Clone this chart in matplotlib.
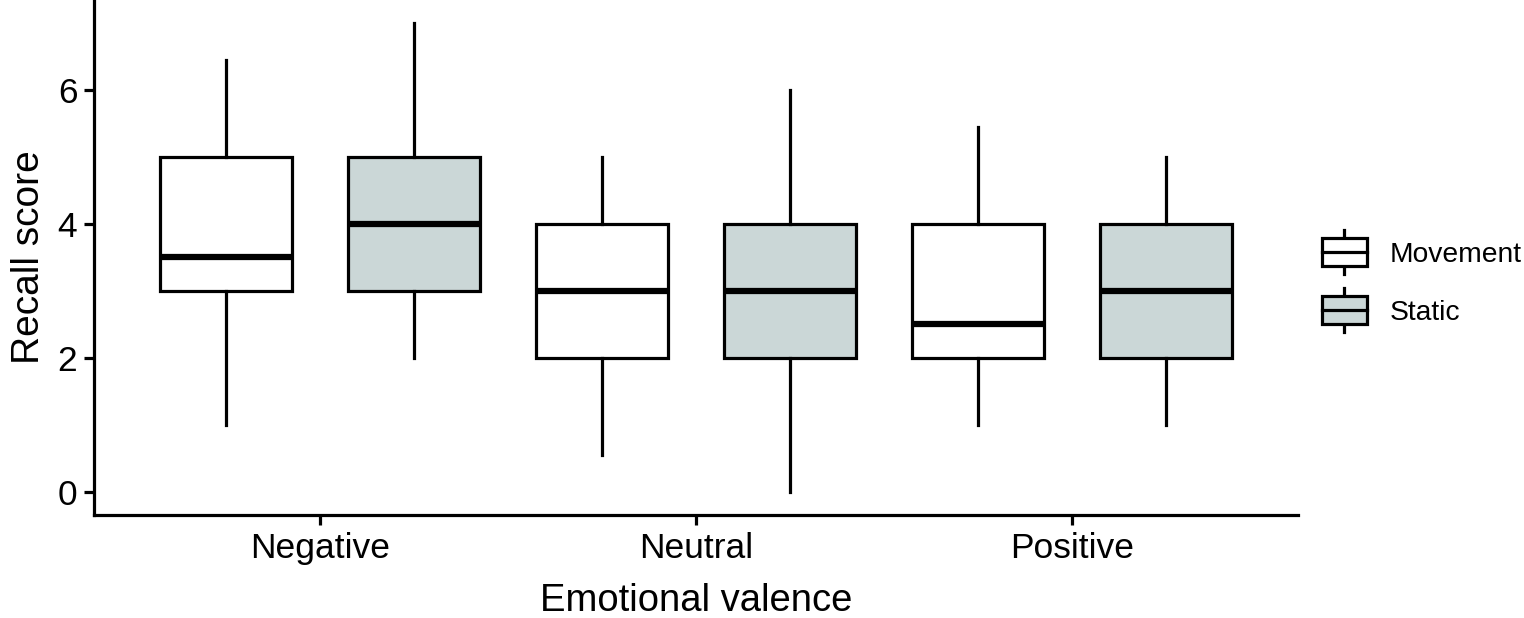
import matplotlib
matplotlib.use("Agg")
import matplotlib.pyplot as plt
from matplotlib.legend_handler import HandlerBase
from matplotlib.lines import Line2D
from matplotlib.patches import Rectangle

plt.rcParams['font.family'] = ['Liberation Sans', 'DejaVu Sans']

# data
valence = ['Negative', 'Neutral', 'Positive']
groups = ['Movement', 'Static']
lower = {'Movement': [1.0, 0.55, 1.0], 'Static': [2.0, 0.0, 1.0]}
q1 = {'Movement': [3, 2, 2], 'Static': [3, 2, 2]}
median = {'Movement': [3.5, 3, 2.5], 'Static': [4, 3, 3]}
q3 = {'Movement': [5, 4, 4], 'Static': [5, 4, 4]}
upper = {'Movement': [6.45, 5.0, 5.45], 'Static': [7.0, 6.0, 5.0]}

fills = {'Movement': 'white', 'Static': '#cbd7d7'}
offsets = {'Movement': -0.25, 'Static': 0.25}

fig = plt.figure(figsize=(15.24, 6.18), dpi=100)
ax = fig.add_axes([0.0617, 0.1667, 0.79, 0.8333])

for g in groups:
    stats = []
    for i in range(len(valence)):
        stats.append({'med': median[g][i], 'q1': q1[g][i], 'q3': q3[g][i],
                      'whislo': lower[g][i], 'whishi': upper[g][i], 'fliers': []})
    pos = [i + 1 + offsets[g] for i in range(len(valence))]
    ax.bxp(stats, positions=pos, widths=0.35, patch_artist=True, showcaps=False,
           boxprops=dict(facecolor=fills[g], edgecolor='black', linewidth=2.3),
           whiskerprops=dict(color='black', linewidth=2.3),
           medianprops=dict(color='black', linewidth=4.5, solid_capstyle='butt'),
           manage_ticks=False)

ax.set_xlim(0.4, 3.6)
ax.set_ylim(-0.35, 7.35)
ax.set_xticks([1, 2, 3])
ax.set_xticklabels(valence)
ax.set_yticks([0, 2, 4, 6])
for s in ['top', 'right']:
    ax.spines[s].set_visible(False)
for s in ['left', 'bottom']:
    ax.spines[s].set_linewidth(2.3)
ax.tick_params(axis='both', length=7, width=2.3, labelsize=25.5, pad=5, colors='black')
ax.set_xlabel('Emotional valence', fontsize=27.5, labelpad=13)
ax.set_ylabel('Recall score', fontsize=28, labelpad=8)


class BoxHandler(HandlerBase):
    def __init__(self, fill):
        super().__init__()
        self.fill = fill

    def create_artists(self, legend, orig_handle, xdescent, ydescent, width, height, fontsize, trans):
        cx = width / 2 - xdescent
        bh = height * 1.25
        by = -ydescent + (height - bh) / 2
        rect = Rectangle((-xdescent, by), width, bh, facecolor=self.fill,
                         edgecolor='black', linewidth=2.3, transform=trans)
        med = Line2D([-xdescent, -xdescent + width], [by + bh / 2] * 2,
                     color='black', linewidth=2.3, transform=trans)
        w1 = Line2D([cx, cx], [by + bh, by + bh + height * 0.35], color='black',
                    linewidth=2.3, transform=trans)
        w2 = Line2D([cx, cx], [by, by - height * 0.35], color='black',
                    linewidth=2.3, transform=trans)
        return [w1, w2, rect, med]


h1 = Rectangle((0, 0), 1, 1)
h2 = Rectangle((0, 0), 1, 1)
leg = fig.legend([h1, h2], groups, loc='center left', bbox_to_anchor=(0.8505, 0.542),
                 frameon=False, fontsize=20.3, handlelength=1.6, handleheight=0.85,
                 labelspacing=1.1, handletextpad=0.8,
                 handler_map={h1: BoxHandler(fills['Movement']), h2: BoxHandler(fills['Static'])})

fig.savefig('out.png', dpi=100)
